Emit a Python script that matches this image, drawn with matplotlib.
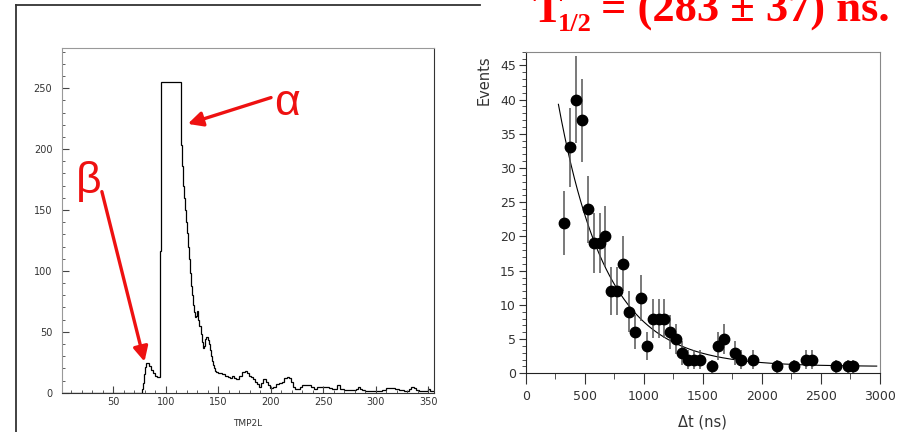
import matplotlib
matplotlib.use("Agg")
import matplotlib.pyplot as plt
import numpy as np
from matplotlib.lines import Line2D
from matplotlib.ticker import MultipleLocator

# left: energy spectrum (TMP2L), step edges and counts
spec_edges = [1, 77, 78, 79, 80, 81, 84, 86, 88, 90, 92, 94, 95, 114, 115, 116,
              117, 118, 119, 120, 121, 122, 123, 124, 125, 126, 127, 128, 129,
              130, 131, 132, 133, 134, 135, 136, 137, 138, 139, 140, 141, 142,
              143, 144, 145, 146, 147, 148, 150, 153, 156, 159, 161, 163, 165,
              167, 170, 173, 175, 177, 179, 181, 183, 185, 187, 189, 191, 193,
              195, 197, 199, 202, 205, 208, 211, 213, 215, 217, 219, 221, 223,
              228, 230, 238, 241, 244, 255, 258, 263, 266, 270, 281, 283, 285,
              287, 290, 306, 310, 318, 322, 327, 332, 334, 336, 338, 341, 350,
              352, 356]
spec_counts = [0, 3, 8, 15, 21, 24, 22, 19, 16, 14, 13, 116, 255, 203, 186,
               170, 160, 150, 140, 131, 120, 110, 98, 88, 80, 72, 66, 62, 63,
               67, 60, 55, 48, 42, 37, 38, 44, 46, 46, 43, 40, 35, 30, 26, 23,
               20, 18, 17, 16, 15, 14, 13, 12, 14, 12, 11, 14, 17, 18, 16, 14,
               13, 11, 9, 7, 5, 8, 11, 9, 6, 4, 5, 7, 8, 9, 12, 13, 12, 9, 5,
               3, 5, 6, 5, 3, 5, 4, 3, 6, 3, 2, 3, 5, 3, 2, 1, 2, 4, 3, 2, 1,
               3, 5, 4, 2, 1, 3, 1]

# right: time difference distribution
dt_ns = [325, 375, 425, 475, 525, 575, 625, 675, 725, 775, 825, 875, 925, 975,
         1025, 1075, 1125, 1175, 1225, 1275, 1325, 1375, 1425, 1475, 1575, 1625,
         1675, 1775, 1825, 1925, 2125, 2275, 2375, 2425, 2625, 2725, 2775]
events = [22, 33, 40, 37, 24, 19, 19, 20, 12, 12, 16, 9, 6, 11, 4, 8, 8, 8, 6,
          5, 3, 2, 2, 2, 1, 4, 5, 3, 2, 2, 1, 1, 2, 2, 1, 1, 1]

# fitted decay: A * 2^(-t / T_half) + C
fit_amp = 75.5
fit_t_half = 283.0
fit_const = 1.0
fit_range = (277, 2972)

RED = "#ee1111"

fig = plt.figure(figsize=(9.04, 4.32), dpi=100)

# outer frame of the slide picture
fig.add_artist(Line2D([16 / 904, 480 / 904], [1 - 5 / 432, 1 - 5 / 432],
                      transform=fig.transFigure, color="#333333", lw=1.3))
fig.add_artist(Line2D([16 / 904, 16 / 904], [1 - 5 / 432, 0],
                      transform=fig.transFigure, color="#333333", lw=1.3))

# ---- left panel ----
ax1 = fig.add_axes([62 / 904, 39.3 / 432, 372 / 904, 344.7 / 432])
ax1.stairs(spec_counts, spec_edges, color="black", lw=0.9)
ax1.set_xlim(1, 355.5)
ax1.set_ylim(0, 283)
ax1.xaxis.set_major_locator(MultipleLocator(50))
ax1.xaxis.set_minor_locator(MultipleLocator(10))
ax1.yaxis.set_major_locator(MultipleLocator(50))
ax1.yaxis.set_minor_locator(MultipleLocator(10))
ax1.tick_params(which="both", direction="in", color="#444444",
                labelsize=7, labelcolor="#333333")
ax1.tick_params(which="major", length=5, pad=3)
ax1.tick_params(which="minor", length=2.5)
ax1.tick_params(axis="y", pad=7)
ax1.set_xticks([50, 100, 150, 200, 250, 300, 350])
for side in ("top", "left"):
    ax1.spines[side].set_color("#999999")
for side in ("bottom", "right"):
    ax1.spines[side].set_color("#333333")
ax1.set_xlabel("TMP2L", fontsize=6.5, color="#333333", labelpad=9)

ax1.annotate("", xy=(120.9, 220.7), xytext=(200.2, 242.3),
             arrowprops=dict(arrowstyle="-|>", color=RED, lw=2.4,
                             mutation_scale=22, shrinkA=0, shrinkB=0))
ax1.annotate("", xy=(79.6, 25.5), xytext=(39, 165.1),
             arrowprops=dict(arrowstyle="-|>", color=RED, lw=2.4,
                             mutation_scale=22, shrinkA=0, shrinkB=0))
ax1.text(215.4, 228, "α", color=RED, fontsize=32, family="Liberation Sans",
         ha="center", va="baseline")
ax1.text(26.5, 163.7, "β", color=RED, fontsize=32, family="Liberation Sans",
         ha="center", va="baseline")

# ---- right panel ----
ax2 = fig.add_axes([525.7 / 904, 58.7 / 432, 354.3 / 904, 321.6 / 432])
ax2.errorbar(dt_ns, events, yerr=np.sqrt(events), fmt="none",
             ecolor="#555555", elinewidth=1.1, capsize=0, zorder=2)
ax2.plot(dt_ns, events, "o", color="black", markersize=7.5, zorder=3)
t_fit = np.linspace(fit_range[0], fit_range[1], 400)
ax2.plot(t_fit, fit_amp * 2 ** (-t_fit / fit_t_half) + fit_const,
         color="black", lw=0.8, zorder=1)
ax2.set_xlim(0, 3000)
ax2.set_ylim(0, 47)
ax2.xaxis.set_major_locator(MultipleLocator(500))
ax2.xaxis.set_minor_locator(MultipleLocator(250))
ax2.yaxis.set_major_locator(MultipleLocator(5))
ax2.yaxis.set_minor_locator(MultipleLocator(1))
ax2.tick_params(which="both", direction="out", color="#333333",
                labelsize=9, labelcolor="#333333")
ax2.tick_params(axis="x", which="major", length=8, pad=4)
ax2.tick_params(axis="x", which="minor", length=4)
ax2.tick_params(axis="y", which="major", length=5, pad=2)
ax2.tick_params(axis="y", which="minor", length=3)
for side in ("top", "right"):
    ax2.spines[side].set_color("#888888")
for side in ("bottom", "left"):
    ax2.spines[side].set_color("#222222")
ax2.set_ylabel("Events", fontsize=10.5, color="#333333")
ax2.yaxis.set_label_coords(-0.095, 0.912)
ax2.set_xlabel("Δt (ns)", fontsize=10.5, color="#333333", labelpad=8)

# red title, cut at the top edge
title_y = 1 - 22 / 432
fig.text(532 / 904, title_y, "T", color="red", fontsize=32,
         family="Liberation Serif", weight="bold", va="baseline")
fig.text(558 / 904, 1 - 31 / 432, "1/2", color="red", fontsize=19,
         family="Liberation Serif", weight="bold", va="baseline")
fig.text(601 / 904, title_y, "= (283 \u00b1 37) ns.", color="red", fontsize=32,
         family="Liberation Serif", weight="bold", va="baseline")

fig.savefig("out.png", dpi=100)
